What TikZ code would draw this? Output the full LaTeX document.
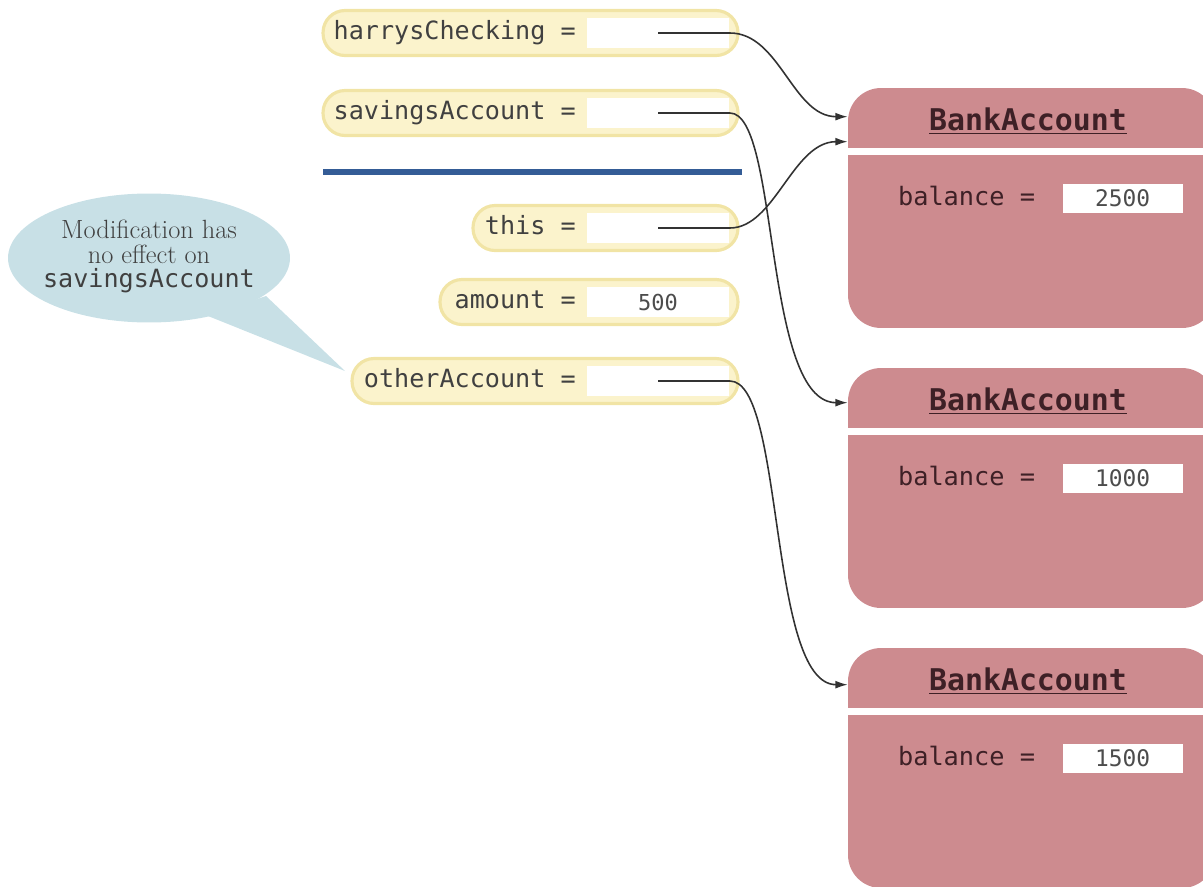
\documentclass[tikz,border=0pt]{standalone}
\usepackage{fontspec}
\newfontfamily\codefont{DejaVu Sans Mono}
\usetikzlibrary{arrows.meta,positioning,shapes.geometric,calc}
\definecolor{PillFill}{RGB}{251,243,204}
\definecolor{PillEdge}{RGB}{241,228,165}
\definecolor{RuleBlue}{RGB}{52,92,150}
\definecolor{ObjRose}{RGB}{205,139,143}
\definecolor{ObjText}{RGB}{62,32,38}
\definecolor{NoteBlue}{RGB}{200,224,230}
\definecolor{LinkGray}{RGB}{50,50,50}
\tikzset{
  pill/.style={draw=PillEdge,fill=PillFill,line width=1.8pt,rounded corners=0.44cm,
    minimum height=0.9cm,inner sep=0pt},
  varname/.style={anchor=east,font=\codefont\fontsize{14.3}{15}\selectfont,
    text=black!75,inner sep=0pt,text height=10.5pt,text depth=3pt},
  slot/.style={fill=white,minimum width=2.86cm,minimum height=0.6cm,inner sep=0pt,
    font=\codefont\fontsize{12.5}{14}\selectfont,text=black!70},
  object/.style={fill=ObjRose,rounded corners=0.66cm,minimum width=7.34cm,
    minimum height=4.8cm,inner sep=0pt},
  classname/.style={font=\codefont\bfseries\fontsize{17}{18}\selectfont,
    text=ObjText,inner sep=1pt},
  field/.style={anchor=west,font=\codefont\fontsize{14.4}{15}\selectfont,
    text=ObjText,inner sep=0pt,text height=10.5pt,text depth=3pt},
  fieldslot/.style={fill=white,minimum width=2.4cm,minimum height=0.58cm,inner sep=0pt,
    font=\codefont\fontsize{13}{14}\selectfont,text=black!70},
  link/.style={-{Latex[length=7pt,width=4.5pt]},LinkGray,line width=0.9pt},
  note/.style={ellipse,fill=NoteBlue,minimum width=5.64cm,minimum height=2.58cm,
    inner sep=0pt},
  notetext/.style={align=center,text=black!75,inner sep=0pt,
    font=\fontsize{15}{14}\selectfont}
}

\begin{document}
\begin{tikzpicture}[x=0.02cm,y=-0.02cm]
\useasboundingbox (0,0) rectangle (1203,886);

% objects
\node[object] (acct1) at (1031.5,208) {};
\node[object] (acct2) at (1031.5,488) {};
\node[object] (acct3) at (1031.5,768) {};
\draw[white,line width=4pt] ([yshift=-1.28cm]acct1.north west) -- ([yshift=-1.28cm]acct1.north east);
\draw[white,line width=4pt] ([yshift=-1.28cm]acct2.north west) -- ([yshift=-1.28cm]acct2.north east);
\draw[white,line width=4pt] ([yshift=-1.28cm]acct3.north west) -- ([yshift=-1.28cm]acct3.north east);

\node[classname] (cls1) at ([xshift=-0.07cm,yshift=-0.66cm]acct1.north) {\underline{BankAccount}};
\node[classname] (cls2) at ([xshift=-0.07cm,yshift=-0.66cm]acct2.north) {\underline{BankAccount}};
\node[classname] (cls3) at ([xshift=-0.07cm,yshift=-0.66cm]acct3.north) {\underline{BankAccount}};

\node[field] (bal1) at ([xshift=1cm,yshift=-2.22cm]acct1.north west) {balance =};
\node[fieldslot] (val1) at ([xshift=5.5cm,yshift=-2.22cm]acct1.north west) {2500};
\node[field] (bal2) at ([xshift=1cm,yshift=-2.22cm]acct2.north west) {balance =};
\node[fieldslot] (val2) at ([xshift=5.5cm,yshift=-2.22cm]acct2.north west) {1000};
\node[field] (bal3) at ([xshift=1cm,yshift=-2.22cm]acct3.north west) {balance =};
\node[fieldslot] (val3) at ([xshift=5.5cm,yshift=-2.22cm]acct3.north west) {1500};

% variables
\node[pill,minimum width=8.3cm] (hcPill) at (530.5,33) {};
\node[varname] (hcName) at (576,33) {harrysChecking =};
\node[slot] (hcVal) at (658,33) {};

\node[pill,minimum width=8.3cm] (saPill) at (530.5,113) {};
\node[varname] (saName) at (576,113) {savingsAccount =};
\node[slot] (saVal) at (658,113) {};

\draw[RuleBlue,line width=3.4pt] (323,172) -- (742,172);

\node[pill,minimum width=5.3cm] (thPill) at (605.5,228) {};
\node[varname] (thName) at (576,228) {this =};
\node[slot] (thVal) at (658,228) {};

\node[pill,minimum width=5.96cm] (amPill) at (589,302) {};
\node[varname] (amName) at (576,302) {amount =};
\node[slot] (amVal) at (658,302) {500};

\node[pill,minimum width=7.72cm] (oaPill) at (545,381) {};
\node[varname] (oaName) at (576,381) {otherAccount =};
\node[slot] (oaVal) at (658,381) {};

% references
\draw[link] (hcVal.center) -- (hcVal.east) .. controls +(50,0) and +(-55,0) .. ([yshift=-0.58cm]acct1.north west);
\draw[link] (thVal.center) -- (thVal.east) .. controls +(45,0) and +(-55,0) .. ([yshift=-1.08cm]acct1.north west);
\draw[link] (saVal.center) -- (saVal.east) .. controls +(50,0) and +(-85,0) .. ([yshift=-0.7cm]acct2.north west);
\draw[link] (oaVal.center) -- (oaVal.east) .. controls +(55,0) and +(-80,0) .. ([yshift=-0.74cm]acct3.north west);

% callout
\coordinate (tailA) at (208,316);
\coordinate (tailB) at (266,296);
\coordinate (tip) at (345,371);
\fill[NoteBlue] (tailA) -- (tip) -- (tailB) -- cycle;
\node[note] (note) at (149,258) {};
\node[notetext] (noteText) at ([yshift=0.03cm]note.center) {Modification has\\no effect on\\{\codefont\fontsize{14.3}{14}\selectfont savingsAccount}};

\end{tikzpicture}
\end{document}
